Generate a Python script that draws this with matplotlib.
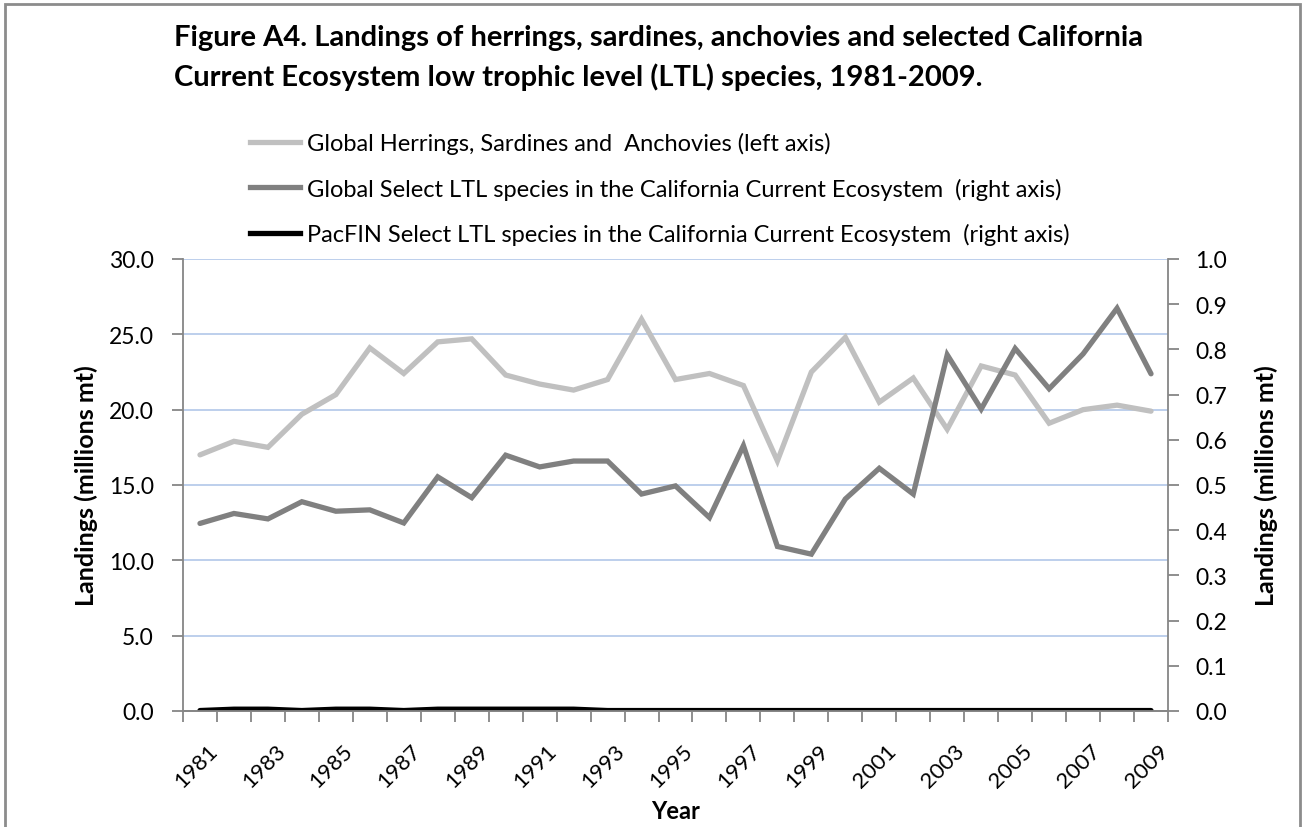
import matplotlib.pyplot as plt
from matplotlib.lines import Line2D
from matplotlib.patches import Rectangle
from matplotlib.transforms import ScaledTranslation

plt.rcParams['font.family'] = ['Lato', 'DejaVu Sans']

# ---- data ----
years = list(range(1981, 2010))
herrings = [17.0, 17.9, 17.5, 19.7, 21.0, 24.1, 22.4, 24.5, 24.7, 22.3,
            21.7, 21.3, 22.0, 26.0, 22.0, 22.4, 21.6, 16.6, 22.5, 24.8,
            20.5, 22.1, 18.7, 22.9, 22.3, 19.1, 20.0, 20.3, 19.9]
global_ltl = [0.415, 0.437, 0.425, 0.463, 0.442, 0.445, 0.416, 0.518, 0.472, 0.566,
              0.540, 0.553, 0.553, 0.480, 0.498, 0.428, 0.587, 0.364, 0.347, 0.469,
              0.537, 0.480, 0.788, 0.668, 0.802, 0.713, 0.790, 0.891, 0.746]
pacfin_ltl = [0.001, 0.004, 0.004, 0.001, 0.004, 0.004, 0.001, 0.004, 0.004, 0.004,
              0.004, 0.004, 0.001, 0.001, 0.001, 0.001, 0.001, 0.001, 0.001, 0.001,
              0.001, 0.001, 0.001, 0.001, 0.001, 0.001, 0.001, 0.001, 0.001]
labels = ['Global Herrings, Sardines and  Anchovies (left axis)',
          'Global Select LTL species in the California Current Ecosystem  (right axis)',
          'PacFIN Select LTL species in the California Current Ecosystem  (right axis)']
left_ticks = [0, 5, 10, 15, 20, 25, 30]
right_ticks = [i / 10 for i in range(11)]

W, H = 1304, 828
AXIS = '#868686'
GRID = '#b7cbea'
C_LIGHT, C_DARK, C_BLACK = '#c0c0c0', '#808080', '#000000'
LW = 3.8

fig = plt.figure(figsize=(W / 100, H / 100), dpi=100)
ax = fig.add_axes([183 / W, 1 - 712 / H, (1168 - 183) / W, 452 / H])
ax2 = ax.twinx()

x = list(range(len(years)))
ax.plot(x, herrings, color=C_LIGHT, lw=LW, solid_capstyle='round', solid_joinstyle='miter')
ax2.plot(x, global_ltl, color=C_DARK, lw=LW, solid_capstyle='round', solid_joinstyle='miter')
ax2.plot(x, pacfin_ltl, color=C_BLACK, lw=LW, solid_capstyle='round')

ax.set_xlim(-0.5, len(years) - 0.5)
ax.set_ylim(0, 30)
ax2.set_ylim(0, 1.0)

# left axis
ax.set_yticks(left_ticks)
ax.set_yticklabels([f'{v:.1f}' for v in left_ticks])
ax.tick_params(axis='y', direction='out', length=8, width=1.3, color=AXIS,
               pad=13, labelsize=16.5)
ax.yaxis.grid(True, color=GRID, lw=1.3)
ax.set_axisbelow(True)

# right axis
ax2.set_yticks(right_ticks)
ax2.set_yticklabels([f'{v:.1f}' for v in right_ticks])
ax2.tick_params(axis='y', direction='out', length=8, width=1.3, color=AXIS,
                pad=11.5, labelsize=16.5)

# x axis: labels every other year at category centres, ticks between categories
ax.set_xticks(x[::2])
ax.set_xticklabels([str(y) for y in years[::2]], rotation=45, ha='right', va='top',
                   rotation_mode='anchor', fontsize=16)
ax.set_xticks([i - 0.5 for i in range(len(years) + 1)], minor=True)
ax.tick_params(axis='x', which='major', length=0, pad=21)
ax.tick_params(axis='x', which='minor', direction='out', length=8, width=1.3, color=AXIS)
for lab in ax.get_xticklabels():
    lab.set_transform(lab.get_transform() + ScaledTranslation(7 / 100, 0, fig.dpi_scale_trans))

for a in (ax, ax2):
    a.spines['top'].set_visible(False)
    for s in ('left', 'right', 'bottom'):
        a.spines[s].set_color(AXIS)
        a.spines[s].set_linewidth(1.3)
ax.spines['right'].set_visible(False)
ax2.spines['left'].set_visible(False)

ax.set_ylabel('Landings (millions mt)', fontsize=18, fontweight='bold', labelpad=8)
ax2.set_ylabel('Landings (millions mt)', fontsize=18, fontweight='bold', labelpad=20)
ax.set_xlabel('Year', fontsize=17, fontweight='bold')
ax.xaxis.set_label_coords(0.5, -(800 - 712) / 452)

# title
fig.text(174 / W, 1 - 25 / H, 'Figure A4. Landings of herrings, sardines, anchovies and selected California\n'
         'Current Ecosystem low trophic level (LTL) species, 1981-2009.',
         ha='left', va='top', fontsize=21, fontweight='bold', linespacing=1.55)

# legend
handles = [Line2D([], [], color=c, lw=LW) for c in (C_LIGHT, C_DARK, C_BLACK)]
fig.legend(handles, labels, loc='upper left', bbox_to_anchor=(250 / W, 1 - 133 / H),
           frameon=False, fontsize=17, handlelength=2.1, handletextpad=0.3,
           labelspacing=0.99, borderpad=0, borderaxespad=0)

# outer chart border
fig.add_artist(Rectangle((5 / W, -0.05), (1300 - 5) / W, (828 - 5) / H + 0.05,
                         transform=fig.transFigure, fill=False, ec='#8c8c8c', lw=2))

fig.savefig('out.png', dpi=100)
